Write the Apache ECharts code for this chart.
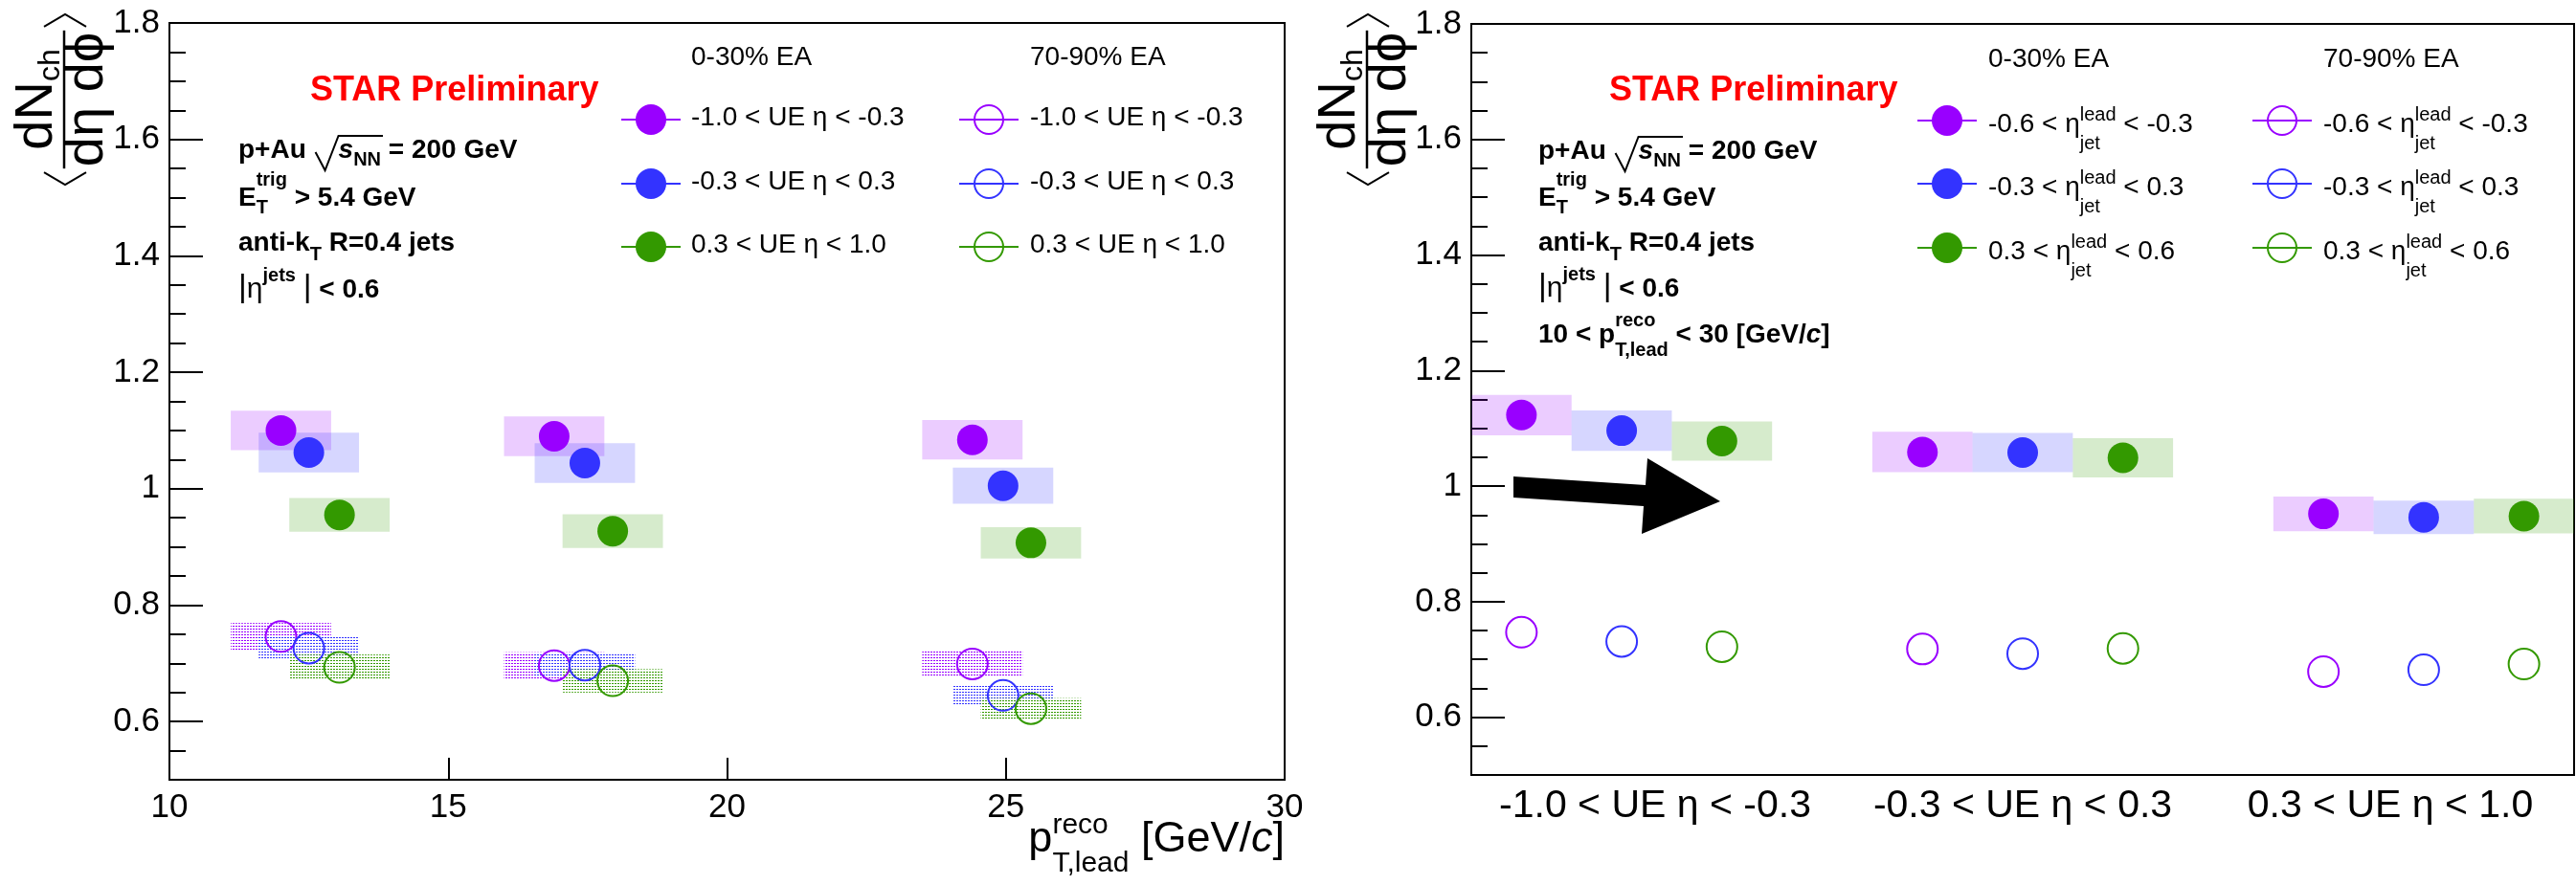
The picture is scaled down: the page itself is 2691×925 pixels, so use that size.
<!DOCTYPE html>
<html>
<head>
<meta charset="utf-8">
<script src="https://cdn.jsdelivr.net/npm/echarts@6/dist/echarts.min.js"></script>
<style>
  html, body { margin: 0; padding: 0; background: #fff; }
  #c { width: 2691px; height: 925px; }
</style>
</head>
<body>
<div id="c"></div>
<script>
// ---------------- data ----------------
// Right panel categories: pseudorapidity slice of the underlying event
const ueEtaLabels = ['-1.0 < UE η < -0.3', '-0.3 < UE η < 0.3', '0.3 < UE η < 1.0'];
const ueLegendLabels = ['-1.0 < UE η < -0.3', '-0.3 < UE η < 0.3', '0.3 < UE η < 1.0'];
// Leading-jet pseudorapidity slices (text before / after the eta symbol)
const jetEtaLabels = [['-0.6 < η', ' < -0.3'], ['-0.3 < η', ' < 0.3'], ['0.3 < η', ' < 0.6']];

// Left panel: mean reconstructed leading-jet pT [GeV/c] per UE eta slice
const ptLeadUeNeg = [12.0, 16.9, 24.4];
const ptLeadUeMid = [12.5, 17.45, 24.95];
const ptLeadUePos = [13.05, 17.95, 25.45];
// 0-30% EA
const hiEaUeNeg = [1.100, 1.090, 1.084];
const hiEaUeMid = [1.062, 1.044, 1.005];
const hiEaUePos = [0.955, 0.927, 0.907];
const hiEaSysUeNeg = [0.034, 0.034, 0.034];
const hiEaSysUeMid = [0.034, 0.034, 0.031];
const hiEaSysUePos = [0.029, 0.029, 0.027];
// 70-90% EA
const loEaUeNeg = [0.746, 0.696, 0.699];
const loEaUeMid = [0.726, 0.697, 0.645];
const loEaUePos = [0.693, 0.670, 0.622];
const loEaSysUeNeg = [0.023, 0.023, 0.023];
const loEaSysUeMid = [0.020, 0.020, 0.017];
const loEaSysUePos = [0.022, 0.020, 0.018];
const ptSysHalfWidth = 0.9;

// Right panel: one value per UE eta category, for each leading-jet eta slice
const hiEaJetNeg = [1.123, 1.059, 0.952];
const hiEaJetMid = [1.096, 1.058, 0.946];
const hiEaJetPos = [1.078, 1.049, 0.948];
const hiEaSysJetNeg = [0.035, 0.035, 0.030];
const hiEaSysJetMid = [0.035, 0.034, 0.029];
const hiEaSysJetPos = [0.034, 0.034, 0.030];
const loEaJetNeg = [0.747, 0.718, 0.679];
const loEaJetMid = [0.731, 0.710, 0.682];
const loEaJetPos = [0.722, 0.719, 0.692];

// Axis ticks
const yMajorTicks = [0.6, 0.8, 1, 1.2, 1.4, 1.6, 1.8];
const yMinorTicks = [0.55, 0.65, 0.7, 0.75, 0.85, 0.9, 0.95, 1.05, 1.1, 1.15,
                     1.25, 1.3, 1.35, 1.45, 1.5, 1.55, 1.65, 1.7, 1.75];
const ptTicks = [10, 15, 20, 25, 30];

// ---------------- styles ----------------
const FAM = '"Liberation Sans", Arial, Helvetica, "DejaVu Sans", sans-serif';
const BLACK = '#000';
const VIOLET = '#9900ff', BLUE = '#3333ff', GREEN = '#339900';
const BOX_FILL = {
  [VIOLET]: 'rgba(153,0,255,0.2)',
  [BLUE]: 'rgba(51,51,255,0.2)',
  [GREEN]: 'rgba(51,153,0,0.2)'
};
const MARKER = 32;

// dotted fill used for the 70-90% systematic boxes
function hatch(color) {
  const c = document.createElement('canvas');
  c.width = 3; c.height = 3;
  const g = c.getContext('2d');
  g.fillStyle = color;
  g.fillRect(0, 0, 2, 1);
  return { image: c, repeat: 'repeat' };
}

// ---------------- text helpers ----------------
const mctx = document.createElement('canvas').getContext('2d');
function font(size, bold, italic) {
  return (italic ? 'italic ' : 'normal ') + (bold ? 'bold ' : 'normal ') + size + 'px ' + FAM;
}
function textW(t, f) { mctx.font = f; return mctx.measureText(t).width; }
function textEl(x, base, t, size, o) {
  o = o || {};
  return {
    type: 'text', x: x, y: base - 0.35 * size, silent: true, z: 100,
    style: {
      text: t, font: font(size, o.bold, o.italic), fill: o.color || BLACK,
      align: 'left', verticalAlign: 'middle', textAlign: 'left', textVerticalAlign: 'middle'
    }
  };
}
// Lays out a run of pieces on one baseline; stacked sup/sub share one x.
function layoutRun(x0, base, pieces, d, out) {
  let x = x0;
  const marks = {};
  for (const p of pieces) {
    if (p.mark) { marks[p.mark] = x; continue; }
    if (p.gap) { x += p.gap; continue; }
    const bold = p.bold !== undefined ? p.bold : d.bold;
    const color = d.color;
    if (p.sup !== undefined || p.sub !== undefined) {
      const s = p.size || d.script;
      let w = 0;
      if (p.sup) {
        if (out) out.push(textEl(x, base + (p.supDy !== undefined ? p.supDy : d.supDy), p.sup, s, { bold, color }));
        w = Math.max(w, textW(p.sup, font(s, bold)));
      }
      if (p.sub) {
        if (out) out.push(textEl(x, base + (p.subDy !== undefined ? p.subDy : d.subDy), p.sub, s, { bold, color }));
        w = Math.max(w, textW(p.sub, font(s, bold)));
      }
      x += w;
      continue;
    }
    const s = p.size || d.size;
    if (out) out.push(textEl(x, base + (p.dy || 0), p.t, s, { bold, italic: p.italic, color }));
    x += textW(p.t, font(s, bold, p.italic));
  }
  return { width: x - x0, marks };
}

// ---------------- decorations per panel ----------------
const G = [];

// <dN_ch / (d eta d phi)> drawn vertically, reading bottom to top
function yTitle(cx, cy) {
  const kids = [];
  const numPieces = [{ t: 'dN' }, { sub: 'ch' }];
  const numD = { size: 56, script: 32, subDy: 6 };
  const num = layoutRun(0, 0, numPieces, numD, null);
  layoutRun(-num.width / 2, -9, numPieces, numD, kids);
  const denPieces = [{ t: 'dη dϕ' }];
  const denD = { size: 56 };
  const den = layoutRun(0, 0, denPieces, denD, null);
  layoutRun(-den.width / 2, 44, denPieces, denD, kids);
  kids.push({ type: 'line', silent: true, shape: { x1: -den.width / 2 - 2, y1: 0, x2: den.width / 2 + 2, y2: 0 },
    style: { stroke: BLACK, lineWidth: 2.5 } });
  G.push({ type: 'group', x: cx, y: cy, rotation: Math.PI / 2, children: kids, z: 100 });
  const h = den.width / 2 + 6;
  G.push({ type: 'polyline', silent: true, z: 100, shape: { points: [[cx - 21, cy - h], [cx + 1, cy - h - 13], [cx + 23, cy - h]] },
    style: { stroke: BLACK, lineWidth: 2, fill: null } });
  G.push({ type: 'polyline', silent: true, z: 100, shape: { points: [[cx - 21, cy + h], [cx + 1, cy + h + 13], [cx + 23, cy + h]] },
    style: { stroke: BLACK, lineWidth: 2, fill: null } });
}

function infoBlock(x0, bases, withPtRange) {
  const d = { size: 28, script: 20, bold: true, supDy: -20, subDy: 7 };
  // p+Au sqrt(s_NN) = 200 GeV
  const r1 = layoutRun(x0, bases[0], [
    { t: 'p+Au ' }, { mark: 'r0' }, { gap: 26 }, { mark: 'r1' },
    { t: 's', italic: true }, { sub: 'NN', subDy: 7 }, { mark: 'r2' }, { t: ' = 200 GeV' }
  ], d, G);
  const b = bases[0], m = r1.marks;
  G.push({ type: 'polyline', silent: true, z: 100,
    shape: { points: [[m.r0 + 2, b - 8], [m.r0 + 12, b + 11], [m.r1, b - 25], [m.r2 + 2, b - 25]] },
    style: { stroke: BLACK, lineWidth: 2, fill: null } });
  // E_T^trig > 5.4 GeV
  layoutRun(x0, bases[1], [{ t: 'E' }, { sup: 'trig', sub: 'T', supDy: -22, subDy: 7 }, { t: ' > 5.4 GeV' }], d, G);
  // anti-kT R=0.4 jets
  layoutRun(x0, bases[2], [{ t: 'anti-k' }, { sub: 'T', subDy: 9 }, { t: ' R=0.4 jets' }], d, G);
  // |eta^jets| < 0.6
  layoutRun(x0, bases[3], [
    { t: '|', bold: false, size: 34 }, { t: 'η', bold: false, size: 30 }, { sup: 'jets', supDy: -18 },
    { t: ' ', bold: false }, { t: '|', bold: false, size: 34 }, { t: ' < 0.6' }
  ], d, G);
  if (withPtRange) {
    layoutRun(x0, bases[4], [
      { t: '10 < p' }, { sup: 'reco', sub: 'T,lead', supDy: -18, subDy: 13 },
      { t: ' < 30 [GeV/' }, { t: 'c', italic: true }, { t: ']' }
    ], d, G);
  }
}

function star(x) {
  G.push(textEl(x, 108, 'STAR Preliminary', 36, { bold: true, color: '#ff0000' }));
}

function legendMarker(x, y, color, open) {
  G.push({ type: 'line', silent: true, z: 100, shape: { x1: x - 31, y1: y, x2: x + 31, y2: y },
    style: { stroke: color, lineWidth: 2 } });
  G.push({ type: 'circle', silent: true, z: 101, shape: { cx: x, cy: y, r: open ? 15 : 16 },
    style: open ? { fill: null, stroke: color, lineWidth: 2 } : { fill: color } });
}

const legendColors = [VIOLET, BLUE, GREEN];

// Left panel
yTitle(67, 104);
star(324);
infoBlock(249, [167, 217, 264, 313], false);
G.push(textEl(722, 70, '0-30% EA', 28));
G.push(textEl(1076, 70, '70-90% EA', 28));
[125, 192, 258].forEach((y, i) => {
  legendMarker(680, y, legendColors[i], false);
  legendMarker(1033, y, legendColors[i], true);
  G.push(textEl(722, y + 8, ueLegendLabels[i], 28));
  G.push(textEl(1076, y + 8, ueLegendLabels[i], 28));
});
// x-axis title, right-aligned to the frame
(function () {
  const pieces = [{ t: 'p' }, { sup: 'reco', sub: 'T,lead', supDy: -20, subDy: 20 },
                  { t: ' [GeV/' }, { t: 'c', italic: true }, { t: ']' }];
  const d = { size: 45, script: 30 };
  const w = layoutRun(0, 0, pieces, d, null).width;
  layoutRun(1342 - w, 893, pieces, d, G);
})();

// Right panel
yTitle(1428, 104);
star(1681);
infoBlock(1607, [168, 217, 264, 312, 360], true);
G.push(textEl(2077, 72, '0-30% EA', 28));
G.push(textEl(2427, 72, '70-90% EA', 28));
[126, 192, 259].forEach((y, i) => {
  legendMarker(2034, y, legendColors[i], false);
  legendMarker(2384, y, legendColors[i], true);
  const d = { size: 28, script: 20, supDy: -13, subDy: 17 };
  const pcs = [{ t: jetEtaLabels[i][0] }, { sup: 'lead', sub: 'jet' }, { t: jetEtaLabels[i][1] }];
  layoutRun(2077, y + 14, pcs, d, G);
  layoutRun(2427, y + 14, pcs, d, G);
});
// arrow annotation
G.push({ type: 'polygon', silent: true, z: 100,
  shape: { points: [[1581, 498], [1719, 507], [1721, 479], [1797, 524], [1715, 558], [1717, 529], [1581, 520]] },
  style: { fill: BLACK } });

// ---------------- series ----------------
function boxes(xi, yi, xs, ys, es, half, fill, z) {
  return {
    type: 'custom', xAxisIndex: xi, yAxisIndex: yi, z: z, silent: true,
    data: xs.map((x, i) => [x, ys[i], es[i]]),
    renderItem: function (params, api) {
      const x = api.value(0), y = api.value(1), e = api.value(2);
      const a = api.coord([x - half, y + e]);
      const b = api.coord([x + half, y - e]);
      return { type: 'rect', shape: { x: a[0], y: a[1], width: b[0] - a[0], height: b[1] - a[1] }, style: { fill: fill } };
    }
  };
}
function dots(xi, yi, xs, ys, color, open) {
  return {
    type: 'scatter', xAxisIndex: xi, yAxisIndex: yi, z: 10, silent: true,
    symbol: 'circle', symbolSize: MARKER,
    data: xs.map((x, i) => [x, ys[i]]),
    itemStyle: open ? { color: 'rgba(255,255,255,0)', borderColor: color, borderWidth: 2, opacity: 1 }
                    : { color: color, opacity: 1 },
    emphasis: { disabled: true }
  };
}
// right panel slot positions: 3 jet slices per UE category, one empty slot between categories
const slots = j => ueEtaLabels.map((_, c) => c * 4 + j + 0.5);

const series = [
  // left: systematic boxes
  boxes(0, 0, ptLeadUeNeg, hiEaUeNeg, hiEaSysUeNeg, ptSysHalfWidth, BOX_FILL[VIOLET], 2),
  boxes(0, 0, ptLeadUeMid, hiEaUeMid, hiEaSysUeMid, ptSysHalfWidth, BOX_FILL[BLUE], 2),
  boxes(0, 0, ptLeadUePos, hiEaUePos, hiEaSysUePos, ptSysHalfWidth, BOX_FILL[GREEN], 2),
  boxes(0, 0, ptLeadUeNeg, loEaUeNeg, loEaSysUeNeg, ptSysHalfWidth, hatch(VIOLET), 2),
  boxes(0, 0, ptLeadUeMid, loEaUeMid, loEaSysUeMid, ptSysHalfWidth, hatch(BLUE), 2),
  boxes(0, 0, ptLeadUePos, loEaUePos, loEaSysUePos, ptSysHalfWidth, hatch(GREEN), 2),
  // left: points
  dots(0, 0, ptLeadUeNeg, hiEaUeNeg, VIOLET, false),
  dots(0, 0, ptLeadUeMid, hiEaUeMid, BLUE, false),
  dots(0, 0, ptLeadUePos, hiEaUePos, GREEN, false),
  dots(0, 0, ptLeadUeNeg, loEaUeNeg, VIOLET, true),
  dots(0, 0, ptLeadUeMid, loEaUeMid, BLUE, true),
  dots(0, 0, ptLeadUePos, loEaUePos, GREEN, true),
  // right: systematic boxes
  boxes(2, 2, slots(0), hiEaJetNeg, hiEaSysJetNeg, 0.5, BOX_FILL[VIOLET], 2),
  boxes(2, 2, slots(1), hiEaJetMid, hiEaSysJetMid, 0.5, BOX_FILL[BLUE], 2),
  boxes(2, 2, slots(2), hiEaJetPos, hiEaSysJetPos, 0.5, BOX_FILL[GREEN], 2),
  // right: points
  dots(2, 2, slots(0), hiEaJetNeg, VIOLET, false),
  dots(2, 2, slots(1), hiEaJetMid, BLUE, false),
  dots(2, 2, slots(2), hiEaJetPos, GREEN, false),
  dots(2, 2, slots(0), loEaJetNeg, VIOLET, true),
  dots(2, 2, slots(1), loEaJetMid, BLUE, true),
  dots(2, 2, slots(2), loEaJetPos, GREEN, true)
];

// ---------------- axes ----------------
const axisLine = { show: true, onZero: false, lineStyle: { color: BLACK, width: 2 } };
const tickLabel = { color: BLACK, fontSize: 35, fontFamily: FAM };
function yMajor(gi) {
  return {
    gridIndex: gi, type: 'value', position: 'left', min: 0.5, max: 1.8,
    axisLine: axisLine, splitLine: { show: false },
    axisTick: { show: true, inside: true, length: 35, customValues: yMajorTicks, lineStyle: { color: BLACK, width: 2 } },
    axisLabel: Object.assign({ show: true, margin: 10, customValues: yMajorTicks }, tickLabel)
  };
}
function yMinor(gi) {
  return {
    gridIndex: gi, type: 'value', position: 'left', min: 0.5, max: 1.8,
    axisLine: { show: false }, splitLine: { show: false }, axisLabel: { show: false },
    axisTick: { show: true, inside: true, length: 17, customValues: yMinorTicks, lineStyle: { color: BLACK, width: 2 } }
  };
}

const option = {
  animation: false,
  backgroundColor: '#fff',
  tooltip: { show: false },
  grid: [
    { left: 177, top: 24, width: 1165, height: 791, show: true, borderColor: BLACK, borderWidth: 2,
      backgroundColor: 'transparent', containLabel: false, outerBoundsMode: 'none' },
    { left: 1537, top: 25, width: 1152, height: 785, show: true, borderColor: BLACK, borderWidth: 2,
      backgroundColor: 'transparent', containLabel: false, outerBoundsMode: 'none' }
  ],
  xAxis: [
    { gridIndex: 0, type: 'value', position: 'bottom', min: 10, max: 30, interval: 5,
      axisLine: axisLine, splitLine: { show: false },
      axisTick: { show: true, inside: true, length: 23, lineStyle: { color: BLACK, width: 2 } },
      axisLabel: Object.assign({ show: true, margin: 12, customValues: ptTicks }, tickLabel) },
    { gridIndex: 1, type: 'category', position: 'bottom', data: ueEtaLabels, boundaryGap: true,
      axisLine: { show: false }, axisTick: { show: false }, splitLine: { show: false },
      axisLabel: { show: true, margin: 12, color: BLACK, fontSize: 41, fontFamily: FAM, interval: 0 } },
    { gridIndex: 1, type: 'value', position: 'bottom', min: 0, max: 11,
      axisLine: axisLine, axisTick: { show: false }, axisLabel: { show: false }, splitLine: { show: false } }
  ],
  yAxis: [yMajor(0), yMinor(0), yMajor(1), yMinor(1)],
  series: series,
  graphic: G
};

const chart = echarts.init(document.getElementById('c'), null, { renderer: 'canvas', width: 2691, height: 925 });
chart.setOption(option);
</script>
</body>
</html>
